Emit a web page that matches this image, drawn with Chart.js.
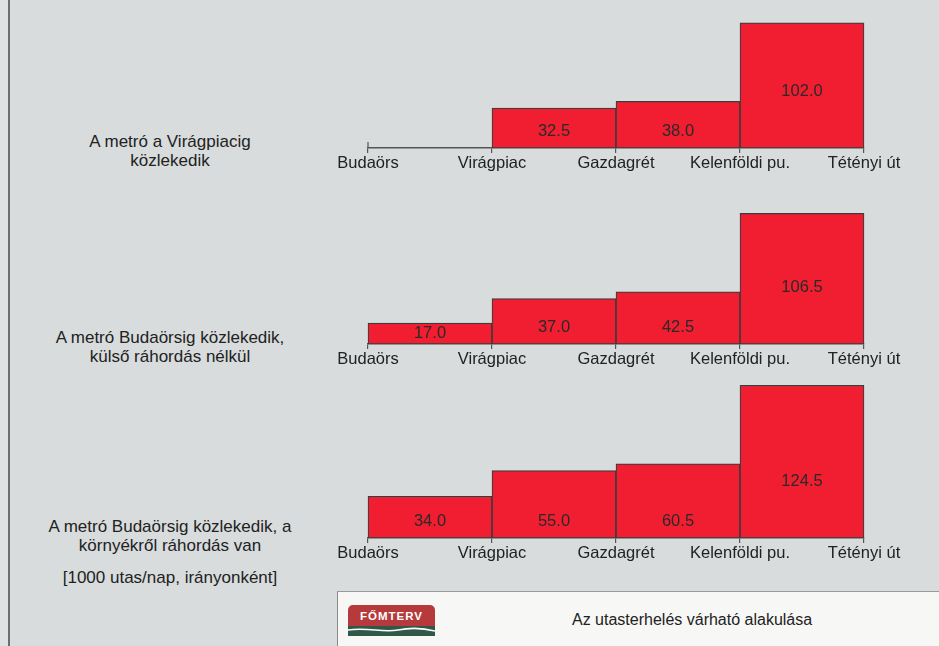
<!DOCTYPE html>
<html>
<head>
<meta charset="utf-8">
<script src="https://cdn.jsdelivr.net/npm/chart.js@4"></script>
<style>
  html, body { margin: 0; padding: 0; }
  body { width: 939px; height: 646px; background: #d8dcdc; position: relative; overflow: hidden;
         font-family: "Liberation Sans", Arial, sans-serif; color: #222; }
  .edge { position: absolute; left: 0; top: 0; width: 8px; height: 646px; background: #dfe2e2; border-right: 2px solid #6a6e6e; }
  .panel-label { position: absolute; left: 20px; width: 300px; text-align: center; font-size: 17px; line-height: 19px; }
  canvas { position: absolute; }
  .box { position: absolute; left: 337px; top: 591px; width: 610px; height: 60px; background: #f7f7f6;
         border-left: 1.5px solid #8a8a8a; border-top: 1.5px solid #9a9a9a; }
  .logo { position: absolute; left: 348px; top: 605px; width: 87px; height: 32px; }
  .logo .red { position: absolute; left: 0; top: 0; width: 87px; height: 22px; background: #b63a3b; border-radius: 5px 5px 0 0;
               color: #fff; font-size: 11.5px; font-weight: bold; letter-spacing: 1px; text-align: center; line-height: 22px; }
  .logo .green { position: absolute; left: 0; top: 21px; width: 87px; height: 10px; background: #2f5847; }
  .title { position: absolute; left: 572px; top: 611px; font-size: 16px; color: #222; }
</style>
</head>
<body>
<div class="edge"></div>

<div class="panel-label" id="lab1" style="top:132px"></div>
<div class="panel-label" id="lab2" style="top:328px"></div>
<div class="panel-label" id="lab3" style="top:517px"></div>
<div class="panel-label" id="unit" style="top:568px"></div>

<canvas id="c1"></canvas>
<canvas id="c2"></canvas>
<canvas id="c3"></canvas>

<div class="box"></div>
<div class="logo">
  <div class="red">FŐMTERV</div>
  <div class="green">
    <svg width="87" height="10" style="position:absolute;left:0;top:0">
      <path d="M0 4 C 20 1, 35 7, 50 4 S 75 2, 87 5" stroke="#ffffff" stroke-width="1.6" fill="none"/>
    </svg>
  </div>
</div>
<div class="title" id="title"></div>

<script>
// ---- data ----
const stations = ['Budaörs', 'Virágpiac', 'Gazdagrét', 'Kelenföldi pu.', 'Tétényi út'];
const scenario1 = [null, 32.5, 38.0, 102.0];
const scenario2 = [17.0, 37.0, 42.5, 106.5];
const scenario3 = [34.0, 55.0, 60.5, 124.5];
const scenarioNames = [
  ['A metró a Virágpiacig', 'közlekedik'],
  ['A metró Budaörsig közlekedik,', 'külső ráhordás nélkül'],
  ['A metró Budaörsig közlekedik, a', 'környékről ráhordás van']
];
const unitText = '[1000 utas/nap, irányonként]';
const titleText = 'Az utasterhelés várható alakulása';

// ---- text ----
document.getElementById('lab1').innerHTML = scenarioNames[0].join('<br>');
document.getElementById('lab2').innerHTML = scenarioNames[1].join('<br>');
document.getElementById('lab3').innerHTML = scenarioNames[2].join('<br>');
document.getElementById('unit').textContent = unitText;
document.getElementById('title').textContent = titleText;

// ---- layout constants ----
const YMAX = 128;
const AREA_H = 157;
const PAD_T = 4, AXIS_H = 28, PAD_LR = 70;
const CANVAS_W = 496 + 2 * PAD_LR;
const CANVAS_H = PAD_T + AREA_H + AXIS_H;

const valueLabels = {
  id: 'valueLabels',
  afterDatasetsDraw(chart) {
    const ctx = chart.ctx;
    const meta = chart.getDatasetMeta(0);
    const data = chart.data.datasets[0].data;
    ctx.save();
    ctx.font = '16.5px "Liberation Sans", Arial, sans-serif';
    ctx.fillStyle = '#2a2a2a';
    ctx.textAlign = 'center';
    ctx.textBaseline = 'middle';
    const last = data.length - 1;
    meta.data.forEach((bar, i) => {
      const v = data[i].y;
      if (v === null || v === undefined) return;
      const h = bar.base - bar.y;
      const off = i === last ? Math.min(h / 2, 57) : Math.min(h / 2, 17);
      ctx.fillText(v.toFixed(1), bar.x, bar.base - off);
    });
    ctx.restore();
  }
};

// small upward tick at the first station when its segment has no bar
const startTick = {
  id: 'startTick',
  afterDraw(chart) {
    const data = chart.data.datasets[0].data;
    if (data[0].y !== null) return;
    const xs = chart.scales.x, ys = chart.scales.y;
    const x = xs.getPixelForValue(0), y = ys.getPixelForValue(0);
    const ctx = chart.ctx;
    ctx.save();
    ctx.strokeStyle = '#555'; ctx.lineWidth = 1.2;
    ctx.beginPath(); ctx.moveTo(x, y - 6); ctx.lineTo(x, y); ctx.stroke();
    ctx.restore();
  }
};

function makePanel(id, values, baselineY) {
  const cv = document.getElementById(id);
  cv.width = CANVAS_W; cv.height = CANVAS_H;
  cv.style.width = CANVAS_W + 'px'; cv.style.height = CANVAS_H + 'px';
  cv.style.left = (368 - PAD_LR) + 'px';
  cv.style.top = (baselineY - AREA_H - PAD_T) + 'px';
  new Chart(cv, {
    type: 'bar',
    data: {
      datasets: [{
        data: values.map((v, i) => ({ x: i + 0.5, y: v })),
        backgroundColor: '#f01e30',
        borderColor: '#3c3c3c',
        borderWidth: 1.2,
        borderSkipped: false,
        categoryPercentage: 1,
        barPercentage: 1,
        clip: false
      }]
    },
    options: {
      responsive: false,
      maintainAspectRatio: false,
      animation: false,
      layout: { padding: { left: PAD_LR, right: PAD_LR, top: PAD_T, bottom: 0 } },
      plugins: { legend: { display: false }, tooltip: { enabled: false } },
      scales: {
        x: {
          type: 'linear', min: 0, max: stations.length - 1, offset: false,
          afterBuildTicks: (s) => { s.ticks = stations.map((_, i) => ({ value: i })); },
          afterFit: (s) => { s.height = AXIS_H; },
          ticks: {
            autoSkip: false, maxRotation: 0, padding: 1,
            color: '#222',
            font: { family: '"Liberation Sans", Arial, sans-serif', size: 16.5 },
            callback: (v) => stations[v]
          },
          grid: { offset: false, drawOnChartArea: false, drawTicks: true, tickLength: 5, color: '#555', lineWidth: 1.2 },
          border: { display: true, color: '#555', width: 1.5 }
        },
        y: { display: false, min: 0, max: YMAX }
      }
    },
    plugins: [valueLabels, startTick]
  });
}

makePanel('c1', scenario1, 148);
makePanel('c2', scenario2, 344);
makePanel('c3', scenario3, 538);
</script>
</body>
</html>
